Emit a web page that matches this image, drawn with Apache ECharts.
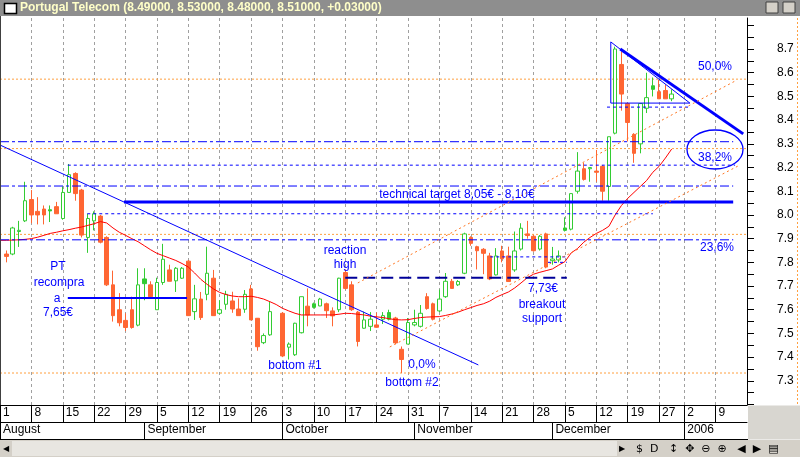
<!DOCTYPE html>
<html><head><meta charset="utf-8">
<script src="https://cdn.jsdelivr.net/npm/echarts@6/dist/echarts.min.js"></script>
<style>html,body{margin:0;padding:0;background:#fff;overflow:hidden;}#c{width:800px;height:457px;}</style>
</head><body><div id="c"></div><script>
// ---- trading days (categories) ----
const augDays = [1,2,3,4,5,8,9,10,11,12,15,16,17,18,19,22,23,24,25,26,29,30,31];
const sepDays = [1,2,5,6,7,8,9,12,13,14,15,16,19,20,21,22,23,26,27,28,29,30];
const octDays = [3,4,5,6,7,10,11,12,13,14,17,18,19,20,21,24,25,26,27,28,31];
const novDays = [1,2,3,4,7,8,9,10,11,14,15,16,17,18,21,22,23,24,25,28,29,30];
const decDays = [1,2,5,6,7,8,9,12,13,14,15,16,19,20,21,22,23,27,28,29,30];
const janDays = [2,3,4,5,6,9,10,11,12,13,16];
const pad = d => (d < 10 ? '0' : '') + d;
const categories = [].concat(
  augDays.map(d => '2005-08-' + pad(d)), sepDays.map(d => '2005-09-' + pad(d)),
  octDays.map(d => '2005-10-' + pad(d)), novDays.map(d => '2005-11-' + pad(d)),
  decDays.map(d => '2005-12-' + pad(d)), janDays.map(d => '2006-01-' + pad(d)));

// tick labels
const weekTickIdx = [0,5,10,15,20,25,30,35,40,45,50,55,60,65,70,75,80,85,90,95,100,105,109,114];
const weekTickLabels = ['1','8','15','22','29','5','12','19','26','3','10','17','24','31','7','14','21','28','5','12','19','27','2','9'];
const monthStartIdx = [0,23,45,66,88,109];
const monthLabels = ['August','September','October','November','December','2006'];
const yTickLabels = [7.3,7.4,7.5,7.6,7.7,7.8,7.9,8.0,8.1,8.2,8.3,8.4,8.5,8.6,8.7];
const yTickMarks = [7.2,7.25,7.3,7.35,7.4,7.45,7.5,7.55,7.6,7.65,7.7,7.75,7.8,7.85,7.9,7.95,8.0,8.05,8.1,8.15,8.2,8.25,8.3,8.35,8.4,8.45,8.5,8.55,8.6,8.65,8.7,8.75,8.8];

// ---- OHLC (index 0 = Aug 1) ----
const opens = [null,7.835,7.835,7.93,7.975,8.065,8.015,8.025,8.017,8.035,7.985,8.095,8.175,8.105,7.905,7.975,7.995,7.905,7.705,7.60,7.555,7.60,7.535,7.71,7.705,7.60,7.715,7.768,7.722,7.733,7.805,7.592,7.645,7.665,7.733,7.585,7.623,7.637,7.603,7.602,7.688,7.564,7.461,7.494,null,7.585,7.442,7.41,7.503,7.615,7.61,7.616,7.625,7.595,7.60,7.757,7.705,7.59,7.522,7.53,7.536,7.56,7.56,7.565,7.433,7.455,7.536,7.53,7.655,7.625,7.595,7.655,7.72,7.705,7.754,7.905,7.866,7.855,7.827,7.747,7.848,7.827,7.768,7.856,7.92,7.91,7.856,7.92,7.807,7.81,7.935,7.94,8.10,8.195,8.195,8.185,8.205,8.12,8.345,8.635,8.47,8.34,8.30,8.45,8.53,8.52,8.525,8.49];
const closes = [null,7.825,7.945,7.935,8.06,8.00,8.00,8.00,8.022,8.005,8.095,8.17,8.09,7.915,7.985,8.005,7.885,7.705,7.575,7.545,7.525,7.525,7.705,7.73,7.655,7.715,7.813,7.72,7.775,7.775,7.575,7.646,7.567,7.754,7.575,7.60,7.665,7.603,7.575,7.665,7.557,7.444,7.491,7.592,null,7.405,7.455,7.543,7.655,7.578,7.625,7.645,7.596,7.574,7.733,7.69,7.60,7.466,7.557,7.56,7.526,7.575,7.588,7.46,7.39,7.546,7.546,7.585,7.605,7.56,7.645,7.72,7.69,7.719,7.92,7.88,7.849,7.838,7.73,7.827,7.815,7.719,7.848,7.944,7.913,7.849,7.91,7.78,7.814,7.827,7.945,8.09,8.185,8.15,8.20,8.18,8.10,8.33,8.70,8.51,8.39,8.26,8.47,8.495,8.545,8.49,8.49,8.51];
const lows = [null,7.80,7.83,7.865,7.97,7.965,7.96,7.96,7.97,8.005,7.98,8.095,8.06,7.905,7.84,7.935,7.88,7.70,7.55,7.53,7.51,7.52,7.53,7.64,7.65,7.60,7.705,7.72,7.675,7.73,7.575,7.557,7.557,7.64,7.575,7.58,7.60,7.587,7.575,7.587,7.557,7.427,7.455,7.49,null,7.40,7.39,7.405,7.50,7.53,7.605,7.615,7.565,7.53,7.59,7.685,7.595,7.445,7.52,7.51,7.524,7.54,7.555,7.455,7.333,7.455,7.53,7.525,7.60,7.555,7.59,7.65,7.69,7.70,7.75,7.87,7.77,7.75,7.725,7.745,7.80,7.718,7.76,7.85,7.90,7.845,7.85,7.775,7.79,7.80,7.93,7.935,8.09,8.145,8.14,8.14,8.06,8.06,8.34,8.44,8.31,8.22,8.26,8.43,8.50,8.49,8.49,8.48];
const highs = [null,7.85,7.95,7.975,8.14,8.105,8.075,8.04,8.04,8.055,8.12,8.215,8.18,8.11,8.005,8.015,8.0,7.91,7.765,7.67,7.585,7.655,7.775,7.775,7.72,7.735,7.878,7.79,7.78,7.78,7.81,7.705,7.675,7.866,7.768,7.64,7.68,7.676,7.648,7.683,7.705,7.565,7.50,7.634,null,7.59,7.462,7.545,7.655,7.69,7.63,7.65,7.63,7.61,7.735,7.77,7.72,7.595,7.592,7.59,7.588,7.59,7.60,7.57,7.445,7.565,7.60,7.62,7.67,7.63,7.685,7.755,7.73,7.725,7.925,7.91,7.87,7.86,7.84,7.86,7.87,7.866,7.93,7.965,7.975,7.915,7.915,7.925,7.865,7.85,7.99,8.09,8.265,8.22,8.20,8.274,8.21,8.33,8.71,8.69,8.475,8.345,8.47,8.60,8.58,8.57,8.55,8.53];
const filledGreenIdx = [8,23,50,62,90,104];

// moving average (red)
const movAvg = [7.893,7.893,7.894,7.895,7.897,7.90,7.906,7.914,7.922,7.927,7.933,7.938,7.944,7.949,7.956,7.963,7.972,7.966,7.945,7.927,7.914,7.90,7.887,7.87,7.853,7.838,7.828,7.818,7.808,7.795,7.78,7.755,7.728,7.707,7.688,7.673,7.664,7.658,7.655,7.655,7.657,7.652,7.645,7.634,7.622,7.606,7.595,7.585,7.578,7.578,7.578,7.578,7.578,7.578,7.581,7.585,7.584,7.581,7.578,7.573,7.57,7.567,7.562,7.558,7.557,7.558,7.563,7.567,7.569,7.57,7.571,7.576,7.582,7.59,7.60,7.609,7.618,7.625,7.636,7.652,7.664,7.675,7.692,7.713,7.735,7.75,7.758,7.765,7.772,7.788,7.803,7.84,7.858,7.885,7.905,7.922,7.935,7.952,8.0,8.04,8.07,8.095,8.12,8.145,8.18,8.205,8.24,8.278];

// ---- annotation levels / lines: [x index, price] ----
const fibLevels = [8.573, 8.280, 7.918, 7.333];
const BLUE = '#0000ff', GREEN = '#33cc33', ORANGE = '#ff6633', FIB = '#ffa040';
const SHORT = [3,3], DASHDOT = [9,3,3,3];
const annotations = [
  {pts:[[0,8.309],[116.8,8.309]], color:BLUE, width:1, type:DASHDOT},
  {pts:[[10.8,8.21],[117.1,8.21]], color:BLUE, width:1, type:SHORT},
  {pts:[[0,8.122],[116.8,8.122]], color:BLUE, width:1, type:DASHDOT},
  {pts:[[19.75,8.055],[116.8,8.055]], color:BLUE, width:3, type:'solid'},
  {pts:[[13.9,8.005],[104.0,8.005]], color:BLUE, width:1, type:SHORT},
  {pts:[[0,7.895],[116.8,7.895]], color:BLUE, width:1, type:DASHDOT},
  {pts:[[55.0,7.735],[90.3,7.735]], color:'#000099', width:2, type:[12,6]},
  {pts:[[78.1,7.823],[90.3,7.823]], color:BLUE, width:1, type:SHORT},
  {pts:[[87.3,7.80],[90.3,7.80]], color:BLUE, width:1, type:SHORT},
  {pts:[[10.8,7.65],[29.8,7.65]], color:BLUE, width:2, type:'solid'},
  {pts:[[96.7,8.455],[109.9,8.455]], color:BLUE, width:1, type:SHORT},
  {pts:[[97.3,8.73],[97.3,8.472],[109.9,8.472],[97.3,8.73]], color:BLUE, width:1, type:'solid'},
  {pts:[[98.8,8.70],[118.4,8.342]], color:BLUE, width:3, type:'solid'},
  {pts:[[0,8.295],[76.2,7.367]], color:BLUE, width:1, type:'solid'},
  {pts:[[57.0,7.713],[117.1,8.565]], color:'#ff7722', width:1, type:[2,3]},
  {pts:[[62.1,7.443],[117.9,8.211]], color:'#ff7722', width:1, type:[2,3]}
];

const weekSet = new Set(weekTickIdx);
const monthSet = new Set(monthStartIdx);
const FONT = 'Liberation Sans, Arial, sans-serif';

const candleData = opens.map((o, i) => {
  if (o == null) return '-';
  const v = [o, closes[i], lows[i], highs[i]];
  if (filledGreenIdx.includes(i)) return {value: v, itemStyle: {color: GREEN, color0: GREEN, borderColor: GREEN, borderColor0: GREEN}};
  return v;
});

const series = [
  {type:'candlestick', xAxisIndex:0, yAxisIndex:0, data:candleData, barWidth:4, z:3,
   itemStyle:{color:'#ffffff', color0:ORANGE, borderColor:GREEN, borderColor0:ORANGE, borderWidth:1}},
  {type:'line', xAxisIndex:0, yAxisIndex:0, data:movAvg, symbol:'none', z:4,
   lineStyle:{color:'#ff0000', width:1}}
];
fibLevels.forEach(v => series.push({type:'line', xAxisIndex:2, yAxisIndex:0, data:[[0,v],[119,v]], symbol:'none', z:2,
  lineStyle:{color:FIB, width:1, type:[2,2]}}));
annotations.forEach(a => series.push({type:'line', xAxisIndex:2, yAxisIndex:0, data:a.pts, symbol:'none', z:5,
  lineStyle:{color:a.color, width:a.width, type:a.type}}));

const txt = (t, x, y) => ({type:'text', z:100, style:{text:t, x:x, y:y, fill:BLUE, font:'12px ' + FONT, align:'center', verticalAlign:'middle'}});
const labels = [
  ['50,0%',715,67],['38,2%',715,158],['23,6%',717,248],
  ['technical target 8,05€ - 8,10€',457,195],
  ['reaction',345,251],['high',345,265],
  ['7,73€',543,289],['breakout',542,305],['support',542,319],
  ['bottom #1',295,366],['0,0%',422,365],['bottom #2',412,383],
  ['PT',58,267],['recompra',59,283],['a',57,299],['7,65€',58,313]
];

const graphics = [
  {type:'rect', shape:{x:0,y:0,width:800,height:16}, style:{fill:'#8e8e8e'}, z:50},
  {type:'rect', shape:{x:4.5,y:3.5,width:12,height:10}, style:{fill:'#fff', stroke:'#000', lineWidth:1.5}, z:51},
  {type:'text', z:52, style:{text:'Portugal Telecom (8.49000, 8.53000, 8.48000, 8.51000, +0.03000)', x:20, y:8, fill:'#ffffc8', font:'bold 12px ' + FONT, verticalAlign:'middle'}},
  {type:'rect', shape:{x:766,y:2,width:12,height:11}, style:{fill:'#d4d0c8', stroke:'#404040'}, z:51},
  {type:'rect', shape:{x:783,y:2,width:12,height:11}, style:{fill:'#d4d0c8', stroke:'#404040'}, z:51},
  {type:'line', shape:{x1:0.5,y1:16,x2:0.5,y2:405}, style:{stroke:'#404040', lineWidth:1}, z:50},
  {type:'line', shape:{x1:797.5,y1:18,x2:797.5,y2:405}, style:{stroke:FIB, lineWidth:1, lineDash:[2,2]}, z:50},
  {type:'rect', shape:{x:748,y:405.5,width:52,height:34}, style:{fill:'#d8d6d0'}, z:50},
  {type:'line', shape:{x1:0,y1:439.5,x2:748,y2:439.5}, style:{stroke:'#000', lineWidth:1}, z:50},
  {type:'rect', shape:{x:0,y:440,width:800,height:17}, style:{fill:'#d4d0c8'}, z:50},
  {type:'rect', shape:{x:12,y:441,width:605,height:15}, style:{fill:'#e8e6e1'}, z:51},
  {type:'text', z:52, style:{text:'◀', x:6, y:449, fill:'#000', font:'8px ' + FONT, align:'center', verticalAlign:'middle'}},
  {type:'text', z:52, style:{text:'▶', x:622, y:449, fill:'#000', font:'8px ' + FONT, align:'center', verticalAlign:'middle'}},
  {type:'text', z:52, style:{text:'$  D   ↕  ✥  ⊖  ⊕   ◀  ▶  ▤', x:636, y:449, fill:'#000', font:'11px DejaVu Sans', verticalAlign:'middle'}},
  {type:'ellipse', shape:{cx:715, cy:149.5, rx:28, ry:19.5}, style:{fill:'none', stroke:BLUE, lineWidth:1.3}, z:60}
].concat(labels.map(l => txt(l[0], l[1], l[2])));

const chart = echarts.init(document.getElementById('c'), null, {renderer:'canvas', width:800, height:457});
chart.setOption({
  animation:false,
  backgroundColor:'#fff',
  grid:{left:0, right:53, top:18, bottom:52, outerBoundsMode:'none'},
  xAxis:[
    {type:'category', data:categories, boundaryGap:false, position:'bottom',
     axisLine:{show:true, onZero:false, lineStyle:{color:'#000', width:1}},
     axisTick:{show:true, interval:(i) => weekSet.has(i), length:17, lineStyle:{color:'#000'}},
     axisLabel:{interval:(i) => weekSet.has(i), formatter:(v, i) => weekTickLabels[weekTickIdx.indexOf(i)] || '',
       align:'left', padding:[0,0,0,3], margin:2, color:'#000', fontSize:12, fontFamily:FONT},
     splitLine:{show:true, interval:(i) => weekSet.has(i) && i > 0, lineStyle:{color:'#a0a0a0', type:[3,3], width:1}}},
    {type:'category', data:categories, boundaryGap:false, position:'bottom', offset:17,
     axisLine:{show:true, onZero:false, lineStyle:{color:'#000', width:1}},
     axisTick:{show:true, interval:(i) => monthSet.has(i), length:17, lineStyle:{color:'#000'}},
     axisLabel:{interval:(i) => monthSet.has(i), formatter:(v, i) => monthLabels[monthStartIdx.indexOf(i)] || '',
       align:'left', padding:[0,0,0,3], margin:2, color:'#000', fontSize:12, fontFamily:FONT},
     splitLine:{show:false}},
    {type:'value', min:0, max:119, show:false}
  ],
  yAxis:[{type:'value', position:'right', min:7.198, max:8.831,
    axisLine:{show:true, onZero:false, lineStyle:{color:'#000', width:1}},
    axisTick:{show:true, length:7, customValues:yTickMarks, lineStyle:{color:'#000'}},
    axisLabel:{customValues:yTickLabels, formatter:(v) => v.toFixed(1), margin:30, align:'left', color:'#000', fontSize:12, fontFamily:FONT},
    splitLine:{show:false}}],
  series:series,
  graphic:graphics
});
</script></body></html>
